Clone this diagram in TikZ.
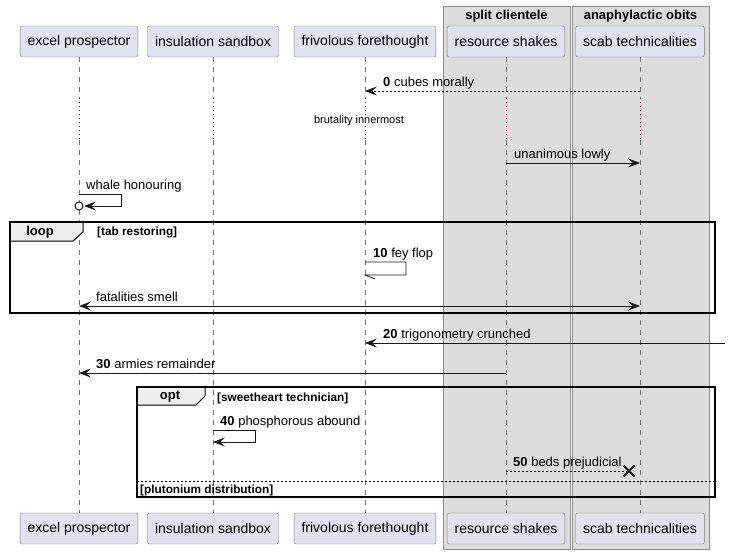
\documentclass[tikz,border=0pt]{standalone}
\usepackage{fontspec}
\setmainfont{Liberation Sans}
\usetikzlibrary{arrows.meta,positioning,calc}
\definecolor{partfill}{RGB}{226,226,240}
\definecolor{partline}{RGB}{120,120,120}
\definecolor{boxfill}{RGB}{221,221,221}
\definecolor{boxline}{RGB}{140,140,140}
\definecolor{delayred}{RGB}{153,0,51}
\definecolor{tabfill}{RGB}{238,238,238}
\definecolor{ink}{RGB}{24,24,24}
\tikzstyle{part} = [draw=partline, fill=partfill, rectangle, rounded corners=2pt,
    minimum height=31pt, inner xsep=7.5pt, text=black, font=\fontsize{14}{16}\selectfont]
\tikzstyle{grp} = [draw=boxline, fill=boxfill, line width=0.8pt]
\tikzstyle{grptitle} = [anchor=base, inner sep=0pt, font=\bfseries\fontsize{13}{15}\selectfont]
\tikzstyle{life} = [draw=black!55, line width=0.5pt, dash pattern=on 5pt off 5pt]
\tikzstyle{delay} = [draw=delayred, line width=0.8pt, dash pattern=on 1pt off 3pt]
\tikzstyle{msg} = [draw=ink, line width=0.8pt, ->]
\tikzstyle{reply} = [msg, dash pattern=on 2pt off 2pt]
\tikzstyle{lbl} = [anchor=base west, inner sep=0pt, font=\fontsize{13}{15}\selectfont]
\tikzstyle{note} = [inner sep=0pt, font=\fontsize{11}{13}\selectfont]
\tikzstyle{frame} = [draw=black, line width=1.5pt]
\tikzstyle{tab} = [draw=black, line width=1pt, fill=tabfill]
\tikzstyle{tabtext} = [inner sep=0pt, font=\bfseries\fontsize{13}{15}\selectfont]
\tikzstyle{guard} = [anchor=base west, inner sep=0pt, font=\bfseries\fontsize{11.8}{13}\selectfont]

\begin{document}
\begin{tikzpicture}[x=1pt, y=-1pt, >={Stealth[length=12pt,width=9pt,inset=5pt]}]
    \useasboundingbox (0,0) rectangle (730,554);

    \path [grp] (443,6) rectangle (570,549);
    \path [grp] (572,6) rectangle (709,549);
    \node [grptitle] (splitT) at (506.5,19.5) {split clientele};
    \node [grptitle] (anaT) at (640.5,19.5) {anaphylactic obits};

    \foreach \n/\y in {d0/98, d1/140, r0/91, r1/163, r2/194, r3/262, r4/306, r5/343, r6/373, r7/430, r8/471}
        \coordinate (\n) at (0,\y);
    \coordinate (rim) at (725,0);

    \foreach \p/\x/\t in {excel/79/excel prospector, insul/213/insulation sandbox,
        friv/365/frivolous forethought, res/506/resource shakes, scab/640/scab technicalities} {
        \node [part] (\p) at (\x,41.5) {\t};
        \node [part] (\p B) at (\x,528.5) {\t};
        \draw [life] (\p.south) -- (\p |- d0);
        \draw [delay] (\p |- d0) -- (\p |- d1);
        \draw [life] (\p |- d1) -- (\p B.north);
    }

	\draw [reply] (scab |- r0) -- (friv |- r0);
	\node [lbl] (m0) at (383,86) {\textbf{0} cubes morally};
	\node [note] (brut) at (359,121) {brutality innermost};

	\draw [msg] (res |- r1) -- (scab |- r1);
	\node [lbl] (m1) at (514,158) {unanimous lowly};

	\draw [msg] (excel |- r2) -- ++(42,0) -- ++(0,12) -- ($(excel |- r2)+(5,12)$);
	\node [circle, draw=ink, line width=1pt, fill=white, inner sep=0pt, minimum size=8pt] (whaleO) at ($(excel |- r2)+(0,12)$) {};
	\node [lbl] (m2) at (86,189) {whale honouring};

	% loop
	\draw [tab] (10,222) -- (83,222) -- (83,232) -- (73,241) -- (10,241) -- cycle;
	\draw [frame] (10,222) rectangle (715,313);
	\node [tabtext] (loopT) at (40,232) {loop};
	\node [guard] (loopG) at (97,235) {[tab restoring]};

	\draw [draw=ink, line width=0.8pt] (friv |- r3) -- ++(41,0) -- ++(0,13) -- ($(friv |- r3)+(0,13)$) -- ++(10,4);
	\node [lbl] (m3) at (373,257) {\textbf{10} fey flop};

	\draw [msg, <->] (excel |- r4) -- (scab |- r4);
	\node [lbl] (m4) at (96,301) {fatalities smell};

	\draw [msg] (rim |- r5) -- (friv |- r5);
	\node [lbl] (m5) at (383,338) {\textbf{20} trigonometry crunched};

	\draw [msg] (res |- r6) -- (excel |- r6);
	\node [lbl] (m6) at (96,368) {\textbf{30} armies remainder};

	% opt
	\draw [tab] (137,387) -- (205,387) -- (205,396) -- (196,405) -- (137,405) -- cycle;
	\draw [frame] (137,387) rectangle (715,497);
	\node [tabtext] (optT) at (170,397) {opt};
	\node [guard] (optG) at (217,401) {[sweetheart technician]};
	\draw [draw=black, line width=1pt, dash pattern=on 2pt off 2pt] (137,481) -- (715,481);
	\node [guard] (elseG) at (140,493) {[plutonium distribution]};

	\draw [msg] (insul |- r7) -- ++(42,0) -- ++(0,12) -- ($(insul |- r7)+(0,12)$);
	\node [lbl] (m7) at (220,425) {\textbf{40} phosphorous abound};

	\coordinate (xmark) at (629,471);
	\draw [reply, -] (res |- r8) -- (xmark);
	\draw [draw=ink, line width=2pt] ($(xmark)+(-5.5,-5.5)$) -- ($(xmark)+(5.5,5.5)$)
	    ($(xmark)+(-5.5,5.5)$) -- ($(xmark)+(5.5,-5.5)$);
	\node [lbl] (m8) at (513,466) {\textbf{50} beds prejudicial};

\end{tikzpicture}
\end{document}
